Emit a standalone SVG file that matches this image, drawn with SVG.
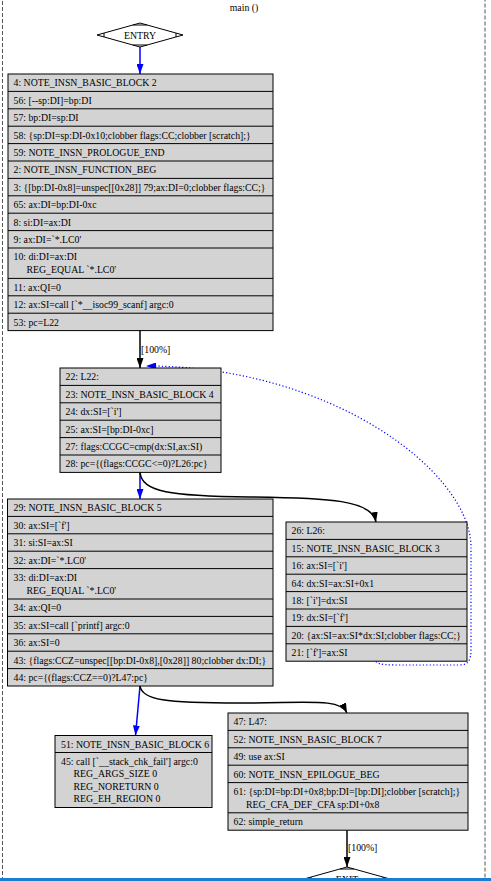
<svg xmlns="http://www.w3.org/2000/svg" width="491" height="881" viewBox="0 0 491 881">
<style>
  text { font-family: "Liberation Serif", "Times New Roman", serif; font-size: 9.8px; fill: #000; }
  .box { fill: #d3d3d3; stroke: #000; stroke-width: 1; }
  .sep { stroke: #000; stroke-width: 1; }
  .dia { fill: #fff; stroke: #000; stroke-width: 1; }
  .mk { stroke: #000; stroke-width: 1; fill: none; }
  .e { fill: none; stroke: #000; stroke-width: 1.5; }
  .eb { fill: none; stroke: #0000ff; stroke-width: 1.5; }
  .ed { fill: none; stroke: #0000ff; stroke-width: 1.2; stroke-dasharray: 1.2 2.2; }
  .c { text-anchor: middle; }
</style>
<defs>
  <marker id="ab" viewBox="0 0 10 7" markerWidth="10" markerHeight="7" refX="10" refY="3.5" orient="auto" markerUnits="userSpaceOnUse">
    <path d="M0,0 L10,3.5 L0,7 z" fill="#000"/>
  </marker>
  <marker id="abl" viewBox="0 0 10 7" markerWidth="10" markerHeight="7" refX="10" refY="3.5" orient="auto" markerUnits="userSpaceOnUse">
    <path d="M0,0 L10,3.5 L0,7 z" fill="#0000ff"/>
  </marker>
</defs>
<rect width="491" height="881" fill="#fff"/>
<g id="cluster_main">
  <rect x="2.5" y="-6" width="482.5" height="900" fill="none" stroke="#555" stroke-width="1" stroke-dasharray="4 2"/>
  <text x="244" y="11" class="c">main ()</text>
</g>

<g id="connectors">
  <path class="eb" d="M140,47 L140,74" marker-end="url(#abl)"/>
  <path class="e" d="M140,330.6 L140,368" marker-end="url(#ab)"/>
  <text x="141" y="352.5">[100%]</text>
  <path class="eb" d="M140,472.4 L140,499" marker-end="url(#abl)"/>
  <path class="e" d="M140,472.4 C142,492 170,496 250,497 C330,498 372,500 376,522" marker-end="url(#ab)"/>
  <path class="ed" d="M376,661.5 C378,665 390,665 400,665 L460,665 C468,665 471,660 471,650 L471,545 C468,470 330,366 146,366" marker-end="url(#abl)"/>
  <path class="eb" d="M140,686 L135.5,735.5" marker-end="url(#abl)"/>
  <path class="e" d="M140,686 C142,700 165,703 240,703 C310,703 340,698 347,713" marker-end="url(#ab)"/>
  <path class="e" d="M347,830.2 L347,867" marker-end="url(#ab)"/>
  <text x="348" y="851">[100%]</text>
</g>

<g id="ENTRY">
  <polygon class="dia" points="140,23 183,35 140,47 97,35"/>
  <path class="mk" d="M133,25 L147,25 M133,45 L147,45 M104,33 L104,37 M176,33 L176,37"/>
  <text x="140" y="38.5" class="c">ENTRY</text>
</g>

<g id="block2">
  <rect class="box" x="8" y="74" width="265" height="256.6"/>
  <path class="sep" d="M8,91.4H273 M8,108.8H273 M8,126.2H273 M8,143.6H273 M8,161H273 M8,178.4H273 M8,195.8H273 M8,213.2H273 M8,230.6H273 M8,248H273 M8,278.4H273 M8,295.8H273 M8,313.2H273"/>
  <text x="13.5" y="86.3">4: NOTE_INSN_BASIC_BLOCK 2</text>
  <text x="13.5" y="103.7">56: [--sp:DI]=bp:DI</text>
  <text x="13.5" y="121.1">57: bp:DI=sp:DI</text>
  <text x="13.5" y="138.5">58: {sp:DI=sp:DI-0x10;clobber flags:CC;clobber [scratch];}</text>
  <text x="13.5" y="155.9">59: NOTE_INSN_PROLOGUE_END</text>
  <text x="13.5" y="173.3">2: NOTE_INSN_FUNCTION_BEG</text>
  <text x="13.5" y="190.7">3: {[bp:DI-0x8]=unspec[[0x28]] 79;ax:DI=0;clobber flags:CC;}</text>
  <text x="13.5" y="208.1">65: ax:DI=bp:DI-0xc</text>
  <text x="13.5" y="225.5">8: si:DI=ax:DI</text>
  <text x="13.5" y="242.9">9: ax:DI=`*.LC0'</text>
  <text x="13.5" y="260.3">10: di:DI=ax:DI</text>
  <text x="26.5" y="272.9">REG_EQUAL `*.LC0'</text>
  <text x="13.5" y="290.7">11: ax:QI=0</text>
  <text x="13.5" y="308.1">12: ax:SI=call [`*__isoc99_scanf] argc:0</text>
  <text x="13.5" y="325.5">53: pc=L22</text>
</g>

<g id="block4">
  <rect class="box" x="60" y="368" width="161" height="104.4"/>
  <path class="sep" d="M60,385.4H221 M60,402.8H221 M60,420.2H221 M60,437.6H221 M60,455H221"/>
  <text x="65.5" y="380.3">22: L22:</text>
  <text x="65.5" y="397.7">23: NOTE_INSN_BASIC_BLOCK 4</text>
  <text x="65.5" y="415.1">24: dx:SI=[`i']</text>
  <text x="65.5" y="432.5">25: ax:SI=[bp:DI-0xc]</text>
  <text x="65.5" y="449.9">27: flags:CCGC=cmp(dx:SI,ax:SI)</text>
  <text x="65.5" y="467.3">28: pc={(flags:CCGC&lt;=0)?L26:pc}</text>
</g>

<g id="block5">
  <rect class="box" x="7.5" y="499" width="265.5" height="187"/>
  <path class="sep" d="M7.5,516.4H273 M7.5,533.8H273 M7.5,551.2H273 M7.5,568.6H273 M7.5,599H273 M7.5,616.4H273 M7.5,633.8H273 M7.5,651.2H273 M7.5,668.6H273"/>
  <text x="13.5" y="511.3">29: NOTE_INSN_BASIC_BLOCK 5</text>
  <text x="13.5" y="528.7">30: ax:SI=[`f']</text>
  <text x="13.5" y="546.1">31: si:SI=ax:SI</text>
  <text x="13.5" y="563.5">32: ax:DI=`*.LC0'</text>
  <text x="13.5" y="580.9">33: di:DI=ax:DI</text>
  <text x="26.5" y="593.5">REG_EQUAL `*.LC0'</text>
  <text x="13.5" y="611.3">34: ax:QI=0</text>
  <text x="13.5" y="628.7">35: ax:SI=call [`printf] argc:0</text>
  <text x="13.5" y="646.1">36: ax:SI=0</text>
  <text x="13.5" y="663.5">43: {flags:CCZ=unspec[[bp:DI-0x8],[0x28]] 80;clobber dx:DI;}</text>
  <text x="13.5" y="680.9">44: pc={(flags:CCZ==0)?L47:pc}</text>
</g>

<g id="block3">
  <rect class="box" x="286" y="522" width="181" height="139.2"/>
  <path class="sep" d="M286,539.4H467 M286,556.8H467 M286,574.2H467 M286,591.6H467 M286,609H467 M286,626.4H467 M286,643.8H467"/>
  <text x="291.5" y="534.3">26: L26:</text>
  <text x="291.5" y="551.7">15: NOTE_INSN_BASIC_BLOCK 3</text>
  <text x="291.5" y="569.1">16: ax:SI=[`i']</text>
  <text x="291.5" y="586.5">64: dx:SI=ax:SI+0x1</text>
  <text x="291.5" y="603.9">18: [`i']=dx:SI</text>
  <text x="291.5" y="621.3">19: dx:SI=[`f']</text>
  <text x="291.5" y="638.7">20: {ax:SI=ax:SI*dx:SI;clobber flags:CC;}</text>
  <text x="291.5" y="656.1">21: [`f']=ax:SI</text>
</g>

<g id="block6">
  <rect class="box" x="55" y="735.5" width="157" height="72"/>
  <path class="sep" d="M55,752.5H212"/>
  <text x="61" y="747.8">51: NOTE_INSN_BASIC_BLOCK 6</text>
  <text x="61" y="764.6">45: call [`__stack_chk_fail'] argc:0</text>
  <text x="73.5" y="777.1">REG_ARGS_SIZE 0</text>
  <text x="73.5" y="789.6">REG_NORETURN 0</text>
  <text x="73.5" y="802.1">REG_EH_REGION 0</text>
</g>

<g id="block7">
  <rect class="box" x="228" y="713" width="240" height="117.2"/>
  <path class="sep" d="M228,730.4H468 M228,747.8H468 M228,765.2H468 M228,782.6H468 M228,812.8H468"/>
  <text x="233.5" y="725.3">47: L47:</text>
  <text x="233.5" y="742.7">52: NOTE_INSN_BASIC_BLOCK 7</text>
  <text x="233.5" y="760.1">49: use ax:SI</text>
  <text x="233.5" y="777.5">60: NOTE_INSN_EPILOGUE_BEG</text>
  <text x="233.5" y="794.9">61: {sp:DI=bp:DI+0x8;bp:DI=[bp:DI];clobber [scratch];}</text>
  <text x="246" y="807.5">REG_CFA_DEF_CFA sp:DI+0x8</text>
  <text x="233.5" y="825.1">62: simple_return</text>
</g>

<g id="EXIT">
  <polygon class="dia" points="347,867 390,879 347,891 304,879"/>
  <path class="mk" d="M340,869 L354,869 M311,877 L311,881 M383,877 L383,881"/>
  <text x="347" y="882.5" class="c">EXIT</text>
</g>

<rect x="0" y="878" width="491" height="3" fill="#1a7fd4"/>
</svg>
